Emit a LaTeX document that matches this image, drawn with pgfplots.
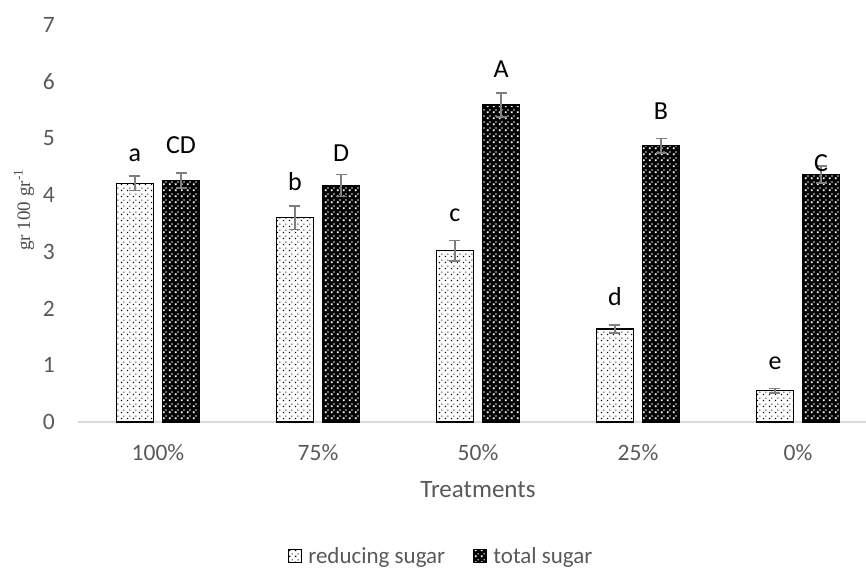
\documentclass[border=0pt]{standalone}
\usepackage{pgfplots}
\pgfplotsset{compat=1.18}
\usepackage{pgfplotstable}
\usetikzlibrary{patterns.meta}
\usepackage{fontspec}
\setmainfont{Carlito}
\newfontfamily\yfont{Liberation Serif}

\definecolor{tickgrey}{HTML}{595959}
\definecolor{errgrey}{HTML}{7F7F7F}
\definecolor{axisgrey}{HTML}{D9D9D9}

% dotted fills like the Excel pattern fills
\tikzdeclarepattern{
  name=bigspots, type=uncolored,
  bottom left={(0bp,0bp)}, top right={(6bp,6bp)}, tile size={(6bp,6bp)},
  code={
    \pgfpathrectangle{\pgfpoint{1bp}{1bp}}{\pgfpoint{2bp}{2bp}}
    \pgfpathrectangle{\pgfpoint{4bp}{4bp}}{\pgfpoint{1.3bp}{1.3bp}}
    \pgfusepath{fill}
  }
}
\tikzdeclarepattern{
  name=smallspots, type=uncolored,
  bottom left={(0bp,0bp)}, top right={(6bp,6bp)}, tile size={(6bp,6bp)},
  code={
    \pgfpathrectangle{\pgfpoint{1bp}{1bp}}{\pgfpoint{1.6bp}{1.6bp}}
    \pgfpathrectangle{\pgfpoint{4bp}{4bp}}{\pgfpoint{1bp}{1bp}}
    \pgfusepath{fill}
  }
}

\pgfplotsset{sqlegend/.style={legend image code/.code={%
    \draw[##1] (0bp,-6.5bp) rectangle (13bp,6.5bp);
    \path (17bp,0bp);}}}

% x: 0=100%, 1=75%, 2=50%, 3=25%, 4=0%
\pgfplotstableread{
x v e
0 4.21 0.13
1 3.60 0.21
2 3.02 0.18
3 1.64 0.07
4 0.55 0.04
}\reducing
\pgfplotstableread{
x v e
0 4.26 0.13
1 4.17 0.19
2 5.59 0.21
3 4.87 0.13
4 4.36 0.15
}\total
% letters above the bars (baseline height)
\pgfplotstableread{
x ly lab
0 4.59 a
1 4.09 b
2 3.54 c
3 2.05 d
4 0.92 e
}\reducinglab
\pgfplotstableread{
x ly lab
0 4.74 CD
1 4.59 D
2 6.07 A
3 5.33 B
4 4.41 C
}\totallab

\begin{document}
\begin{tikzpicture}
\begin{axis}[
    scale only axis,
    width=788bp, height=397bp,
    xmin=-0.5, xmax=4.425,
    ymin=0, ymax=7,
    axis x line=bottom, axis y line=left,
    axis line style={-},
    x axis line style={draw=axisgrey, line width=1.5bp},
    y axis line style={draw=none},
    tick style={draw=none},
    xtick={0,...,4},
    xticklabels={100\%,75\%,50\%,25\%,0\%},
    ytick={0,...,7},
    /pgf/number format/assume math mode=true,
    ticklabel style={font=\fontsize{23.5bp}{27bp}\selectfont, text=tickgrey, inner sep=0pt},
    xticklabel style={yshift=-20bp},
    yticklabel style={xshift=-21bp},
    xlabel={Treatments},
    xlabel style={at={(axis description cs:0.5076,-0.171)}, anchor=center,
        font=\fontsize{25bp}{29bp}\selectfont, text=tickgrey},
    ylabel={gr 100 gr\textsuperscript{-1}},
    ylabel style={at={(axis description cs:-0.0685,0.534)}, anchor=center,
        font=\yfont\fontsize{19bp}{22bp}\selectfont, text=black!70},
    legend style={at={(axis description cs:0.461,-0.3375)}, anchor=center,
        draw=none, fill=none, font=\fontsize{23bp}{27bp}\selectfont,
        text=tickgrey, legend columns=2,
        /tikz/every even column/.append style={column sep=26bp}},
    error bars/error bar style={draw=errgrey, line width=1.5bp},
    error bars/error mark options={rotate=90, draw=errgrey, mark size=5.5bp, line width=1.5bp},
    nodes near coords style={anchor=base, inner sep=0pt,
        font=\fontsize{26bp}{30bp}\selectfont, text=black},
]

\addplot[ybar, bar width=37bp, bar shift=-23bp,
    draw=black, line width=1.2bp, fill=white,
    postaction={pattern={smallspots}, pattern color=black}, sqlegend]
    table[x=x, y=v] {\reducing};
\addlegendentry{reducing sugar}

\addplot[ybar, bar width=37bp, bar shift=23bp,
    draw=black, line width=1.2bp, fill=black,
    postaction={pattern={bigspots}, pattern color=white}, sqlegend]
    table[x=x, y=v] {\total};
\addlegendentry{total sugar}

% error bars, placed on the bar centres
\addplot[draw=none, mark=none, forget plot,
    error bars/.cd, y dir=both, y explicit]
    table[x expr=\thisrow{x}-0.144, y=v, y error=e] {\reducing};
\addplot[draw=none, mark=none, forget plot,
    error bars/.cd, y dir=both, y explicit]
    table[x expr=\thisrow{x}+0.144, y=v, y error=e] {\total};

% significance letters
\addplot[draw=none, mark=none, forget plot, nodes near coords,
    point meta=explicit symbolic]
    table[x expr=\thisrow{x}-0.144, y=ly, meta=lab] {\reducinglab};
\addplot[draw=none, mark=none, forget plot, nodes near coords,
    point meta=explicit symbolic]
    table[x expr=\thisrow{x}+0.144, y=ly, meta=lab] {\totallab};
\end{axis}
\pgfresetboundingbox
\path[use as bounding box] (-78bp,-148bp) rectangle (788bp,422bp);
\end{tikzpicture}
\end{document}
